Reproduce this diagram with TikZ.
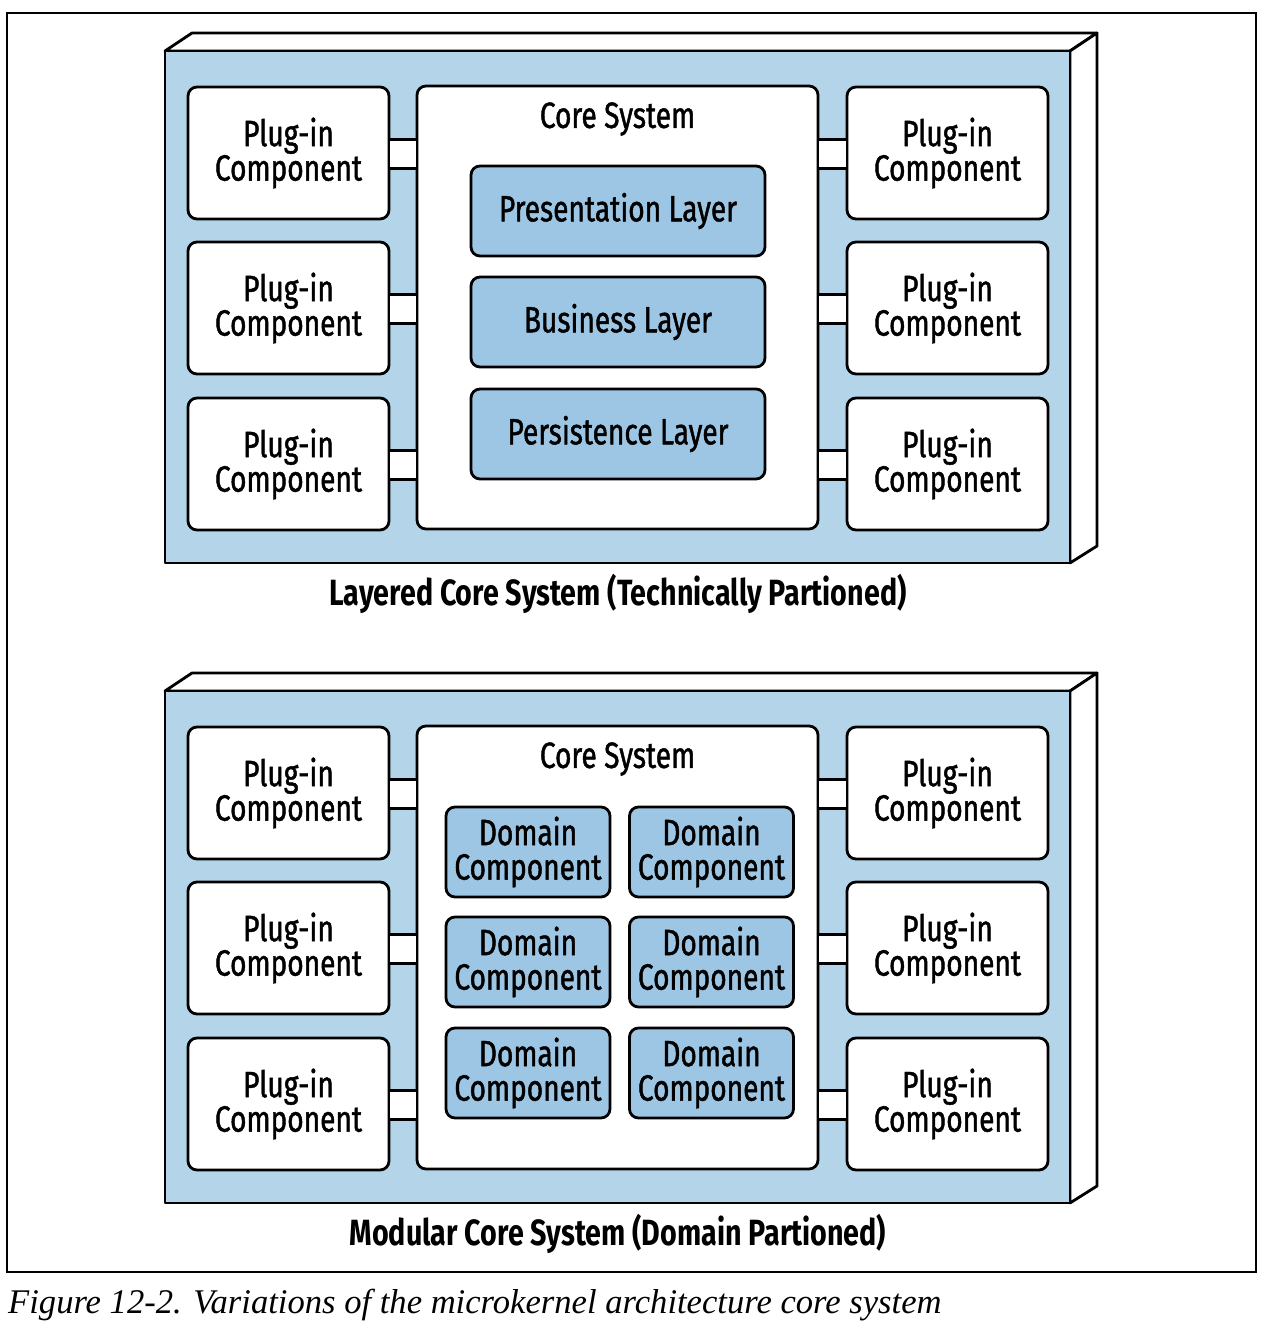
\documentclass[tikz,border=0pt]{standalone}
\usepackage{fontspec}
\newfontfamily\cf[FakeStretch=0.77, FakeBold=1.2]{Fira Sans}
\newfontfamily\cfb[FakeStretch=0.785]{Fira Sans}
\newfontfamily\capfont{Liberation Serif}
\definecolor{outerblue}{RGB}{179,212,233}
\definecolor{layerblue}{RGB}{157,198,228}
\begin{document}
\begin{tikzpicture}[x=1pt,y=-1pt,
  boxline/.style={line width=2.8pt, line join=round},
  boxfont/.style={font=\cf\fontsize{36.5}{34.5}\selectfont},
  plugbox/.style={draw, boxline, fill=white, rounded corners=9pt, minimum width=201pt, minimum height=132pt, inner sep=0pt, align=center, boxfont},
  corebox/.style={draw, boxline, fill=white, rounded corners=9pt, minimum width=401pt, minimum height=443pt, inner sep=0pt},
  layerbox/.style={draw, boxline, fill=layerblue, rounded corners=9pt, minimum width=294pt, minimum height=90pt, inner sep=0pt, align=center, boxfont},
  dombox/.style={draw, boxline, fill=layerblue, rounded corners=9pt, minimum width=164pt, minimum height=90pt, inner sep=0pt, align=center, boxfont},
  lbl/.style={inner sep=0pt, boxfont},
  captext/.style={inner sep=0pt, font=\cfb\bfseries\fontsize{36.5}{36}\selectfont},
  conn/.style={boxline}
]
\useasboundingbox (0,0) rectangle (1274,1328);
\node[draw, line width=1.2pt, minimum width=1249pt, minimum height=1259pt, inner sep=0pt] (frame) at (631.5,642.5) {};

\foreach \off/\pf in {0/a,640/b}{
\begin{scope}[yshift=-\off pt, name prefix=\pf-]
  % 3D box
  \draw[boxline, fill=white] (165,51) -- (192,33) -- (1097,33) -- (1070,51) -- cycle;
  \draw[boxline, fill=white] (1070,51) -- (1097,33) -- (1097,546) -- (1070,563) -- cycle;
  \node[draw, boxline, fill=outerblue, minimum width=905pt, minimum height=512pt, inner sep=0pt] (outer) at (617.5,307) {};
  % core
  \node[corebox] (core) at (617.5,307.5) {};
  \node[lbl] (coretitle) at (617.5,119) {Core System};
  % plug-ins
  \node[plugbox] (l1) at (288.5,153) {Plug-in\\Component};
  \node[plugbox] (l2) at (288.5,308) {Plug-in\\Component};
  \node[plugbox] (l3) at (288.5,464) {Plug-in\\Component};
  \node[plugbox] (r1) at (947.5,153) {Plug-in\\Component};
  \node[plugbox] (r2) at (947.5,308) {Plug-in\\Component};
  \node[plugbox] (r3) at (947.5,464) {Plug-in\\Component};
  \foreach \n in {l1,l2,l3}{
    \fill[white] ([yshift=13.5pt]\n.east) rectangle ([yshift=-15.5pt]\n.east -| core.west);
    \draw[conn] ([yshift=13.5pt]\n.east) -- ([yshift=13.5pt]\n.east -| core.west);
    \draw[conn] ([yshift=-15.5pt]\n.east) -- ([yshift=-15.5pt]\n.east -| core.west);
  }
  \foreach \n in {r1,r2,r3}{
    \fill[white] ([yshift=13.5pt]\n.west) rectangle ([yshift=-15.5pt]\n.west -| core.east);
    \draw[conn] ([yshift=13.5pt]\n.west) -- ([yshift=13.5pt]\n.west -| core.east);
    \draw[conn] ([yshift=-15.5pt]\n.west) -- ([yshift=-15.5pt]\n.west -| core.east);
  }
\end{scope}
}
% layered contents
\node[layerbox] (pres) at (618,211) {Presentation Layer};
\node[layerbox] (bus) at (618,322) {Business Layer};
\node[layerbox] (pers) at (618,434) {Persistence Layer};
\node[captext] (cap1) at (618,594) {Layered Core System (Technically Partioned)};
% modular contents
\node[dombox] (d11) at (528,852) {Domain\\Component};
\node[dombox] (d12) at (711.5,852) {Domain\\Component};
\node[dombox] (d21) at (528,962) {Domain\\Component};
\node[dombox] (d22) at (711.5,962) {Domain\\Component};
\node[dombox] (d31) at (528,1073) {Domain\\Component};
\node[dombox] (d32) at (711.5,1073) {Domain\\Component};
\node[captext] (cap2) at (618,1234) {Modular Core System (Domain Partioned)};
% figure caption
\node[inner sep=0pt, anchor=base west, font=\capfont\itshape\fontsize{34.6}{36}\selectfont] (figcap) at (8,1313) {Figure 12-2. Variations of the microkernel architecture core system};
\end{tikzpicture}
\end{document}
